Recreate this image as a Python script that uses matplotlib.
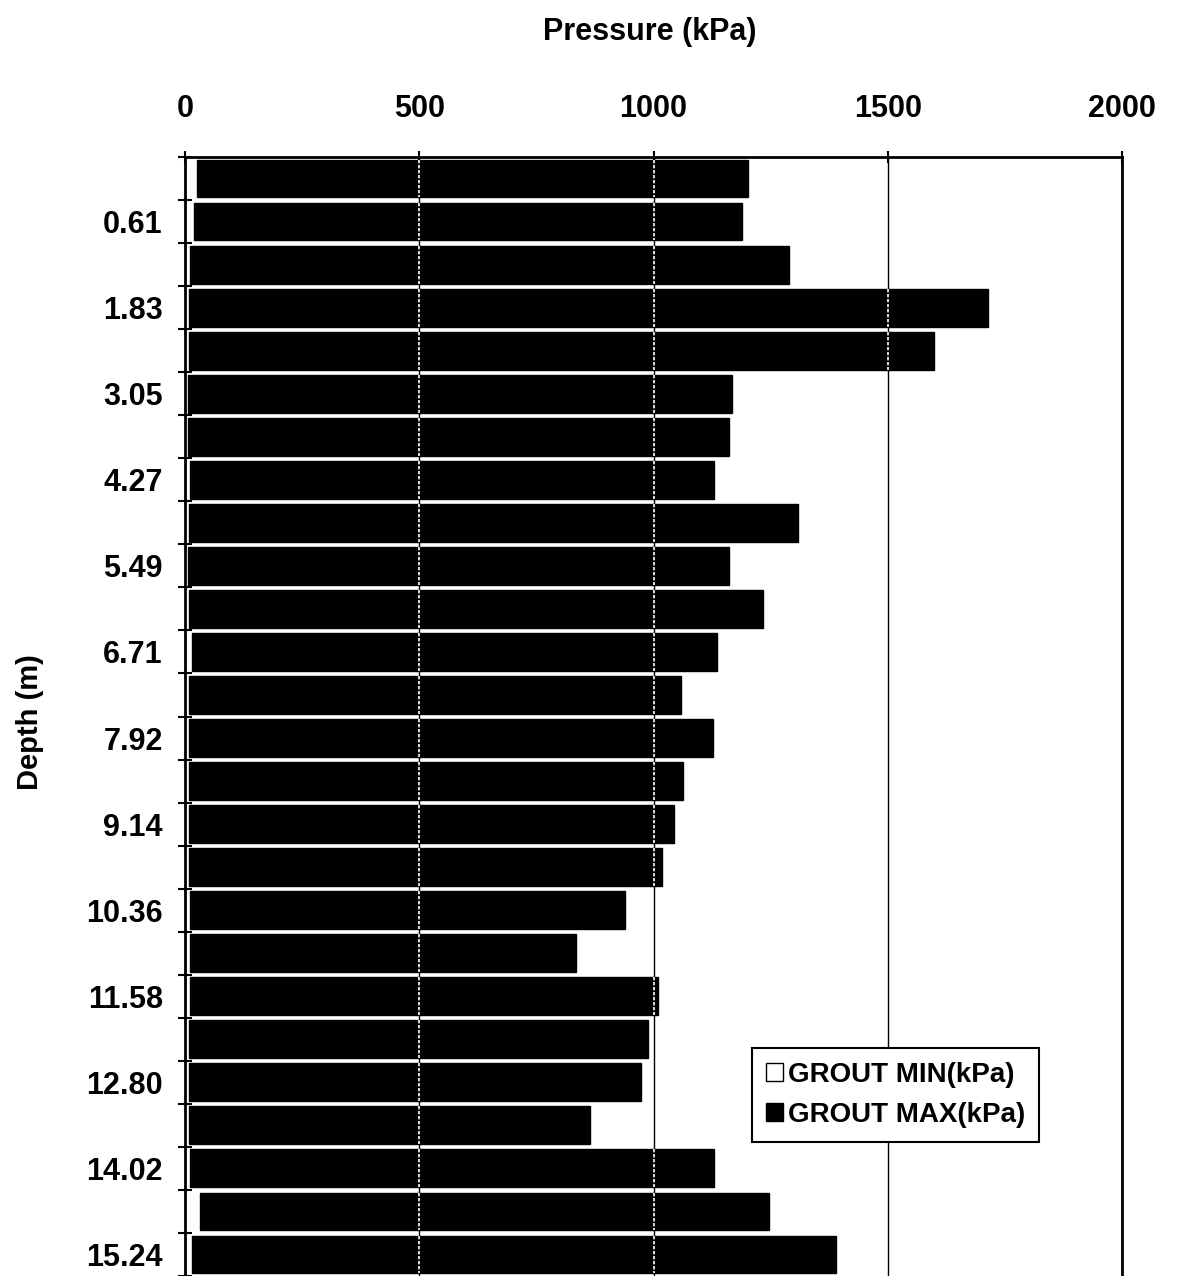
import numpy as np
import matplotlib
matplotlib.use('Agg')
import matplotlib.pyplot as plt
from matplotlib.patches import Patch

plt.rcParams['font.family'] = ['Liberation Sans', 'DejaVu Sans']
plt.rcParams['font.weight'] = 'bold'

# depth categories (m), one bar per 0.61 m
depths = ['0.00', '0.61', '1.22', '1.83', '2.44', '3.05', '3.66', '4.27', '4.88',
          '5.49', '6.10', '6.71', '7.32', '7.92', '8.53', '9.14', '9.75', '10.36',
          '10.97', '11.58', '12.19', '12.80', '13.41', '14.02', '14.63', '15.24']

# grout pressures (kPa)
grout_min = [26, 19, 10, 9, 9, 7, 7, 10, 8, 7, 8, 15, 8,
             8, 8, 8, 9, 10, 10, 10, 8, 9, 9, 10, 32, 15]
grout_max = [1175, 1170, 1280, 1705, 1590, 1160, 1155, 1120, 1300, 1155, 1225, 1120, 1050,
             1120, 1055, 1035, 1010, 930, 825, 1000, 980, 965, 855, 1120, 1215, 1375]

xticks = [0, 500, 1000, 1500, 2000]

fig = plt.figure(figsize=(11.82, 12.76), dpi=100)
ax = fig.add_axes([185 / 1182, 0.0, (1122 - 185) / 1182, 1 - 157 / 1276])

y = np.arange(len(depths))
h = 0.88

# stacked bars: white MIN, black MAX on top of it
ax.barh(y, grout_min, height=h, color='white', edgecolor='none', zorder=2)
ax.barh(y, grout_max, left=grout_min, height=h, color='black', edgecolor='black', zorder=2)

# grid lines (black on paper, white where they cross the bars)
ax.set_xlim(0, 2000)
ax.set_xticks(xticks)
ax.xaxis.grid(True, color='black', linewidth=1, zorder=0)
ax.set_axisbelow(True)
totals = np.array(grout_min) + np.array(grout_max)
for g in xticks[1:-1]:
    for i in y:
        if totals[i] > g:
            ax.vlines(g, i - h / 2, i + h / 2, color='white', linewidth=1.2,
                      linestyles=(0, (2, 1)), zorder=3)

# y axis: ticks on the category boundaries, labels every second category
ax.set_ylim(len(depths) - 0.5, -0.5)
ax.set_yticks(np.arange(len(depths) + 1) - 0.5)
ax.set_yticklabels([])
ax.set_yticks(y, labels=[d if i % 2 == 1 else '' for i, d in enumerate(depths)], minor=True)
ax.tick_params(axis='y', which='major', direction='inout', length=10, width=1.5)
ax.tick_params(axis='y', which='minor', length=0, pad=16, labelsize=22)

# x axis on top
ax.xaxis.tick_top()
ax.tick_params(axis='x', direction='inout', length=8, width=1.5, pad=20, labelsize=22)

for s in ['left', 'top', 'right']:
    ax.spines[s].set_linewidth(2)
ax.spines['bottom'].set_visible(False)

fig.text(650 / 1182, 1 - 32 / 1276, 'Pressure (kPa)', ha='center', va='center',
         fontsize=22, fontweight='bold')
fig.text(30 / 1182, 1 - 722 / 1276, 'Depth (m)', ha='center', va='center',
         rotation=90, fontsize=21, fontweight='bold')

handles = [Patch(facecolor='white', edgecolor='black', label='GROUT MIN(kPa)'),
           Patch(facecolor='black', edgecolor='black', label='GROUT MAX(kPa)')]
leg = fig.legend(handles=handles, loc='upper left', bbox_to_anchor=(752 / 1182, 1 - 1048 / 1276),
                 fontsize=20, handlelength=0.6, handleheight=0.6, handletextpad=0.2,
                 borderpad=0.5, labelspacing=0.5, borderaxespad=0, fancybox=False,
                 framealpha=1, edgecolor='black')
leg.get_frame().set_linewidth(1.5)

fig.savefig('out.png', dpi=100)
